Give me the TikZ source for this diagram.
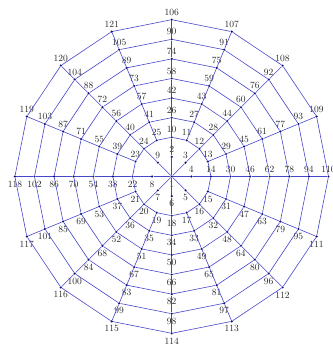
\documentclass[tikz,border=0pt]{standalone}
\usetikzlibrary{positioning}
\definecolor{gridblue}{RGB}{70,70,205}
\definecolor{dotblue}{RGB}{15,15,120}

\begin{document}
\begin{tikzpicture}[x=1pt, y=1pt,
  vertex/.style={circle, fill=dotblue, inner sep=0pt, minimum size=2.4pt},
  num/.style={font=\fontsize{9.5}{10}\selectfont, inner sep=0pt, text=black!85},
  wire/.style={draw=gridblue, line width=0.6pt}]
  \useasboundingbox (-171.7,-168.5) rectangle (160.3,176.5);

  % centre and the first ring (on the main spokes only)
  \node[vertex] (n1) at (0,0) {};
  \node[num, yshift=-7.5pt] (t1) at (n1) {1};
  \foreach \j in {0,...,7} {
    \pgfmathtruncatemacro{\id}{2+\j}
    \pgfmathsetmacro{\ang}{90-45*\j}
    \pgfmathsetmacro{\dy}{mod(\ang+720,360)<180 ? 7.5 : -7.5}
    \node[vertex] (n\id) at (\ang:19.6) {};
    \node[num, yshift=\dy] (t\id) at (n\id) {\id};
  }

  % rings 2 to 8, sixteen nodes each
  \foreach \k in {2,...,8} {
    \foreach \j in {0,...,15} {
      \pgfmathtruncatemacro{\id}{10+16*(\k-2)+\j}
      \pgfmathsetmacro{\ang}{90-22.5*\j}
      \pgfmathsetmacro{\rad}{19.6*\k}
      \pgfmathsetmacro{\dy}{mod(\ang+720,360)<180 ? 7.5 : -7.5}
      \node[vertex] (n\id) at (\ang:\rad) {};
      \node[num, yshift=\dy] (t\id) at (n\id) {\id};
    }
  }

  % main spokes
  \foreach \j in {0,...,7} {
    \pgfmathtruncatemacro{\a}{2+\j}
    \pgfmathtruncatemacro{\b}{10+2*\j}
    \draw[wire] (n1) -- (n\a) -- (n\b);
  }

  % outer spokes
  \foreach \j in {0,...,15} {
    \foreach \k in {3,...,8} {
      \pgfmathtruncatemacro{\a}{10+16*(\k-3)+\j}
      \pgfmathtruncatemacro{\b}{\a+16}
      \draw[wire] (n\a) -- (n\b);
    }
  }

  % rings
  \foreach \k in {2,...,8} {
    \foreach \j in {0,...,15} {
      \pgfmathtruncatemacro{\a}{10+16*(\k-2)+\j}
      \pgfmathtruncatemacro{\b}{10+16*(\k-2)+mod(\j+1,16)}
      \draw[wire] (n\a) -- (n\b);
    }
  }
\end{tikzpicture}
\end{document}
